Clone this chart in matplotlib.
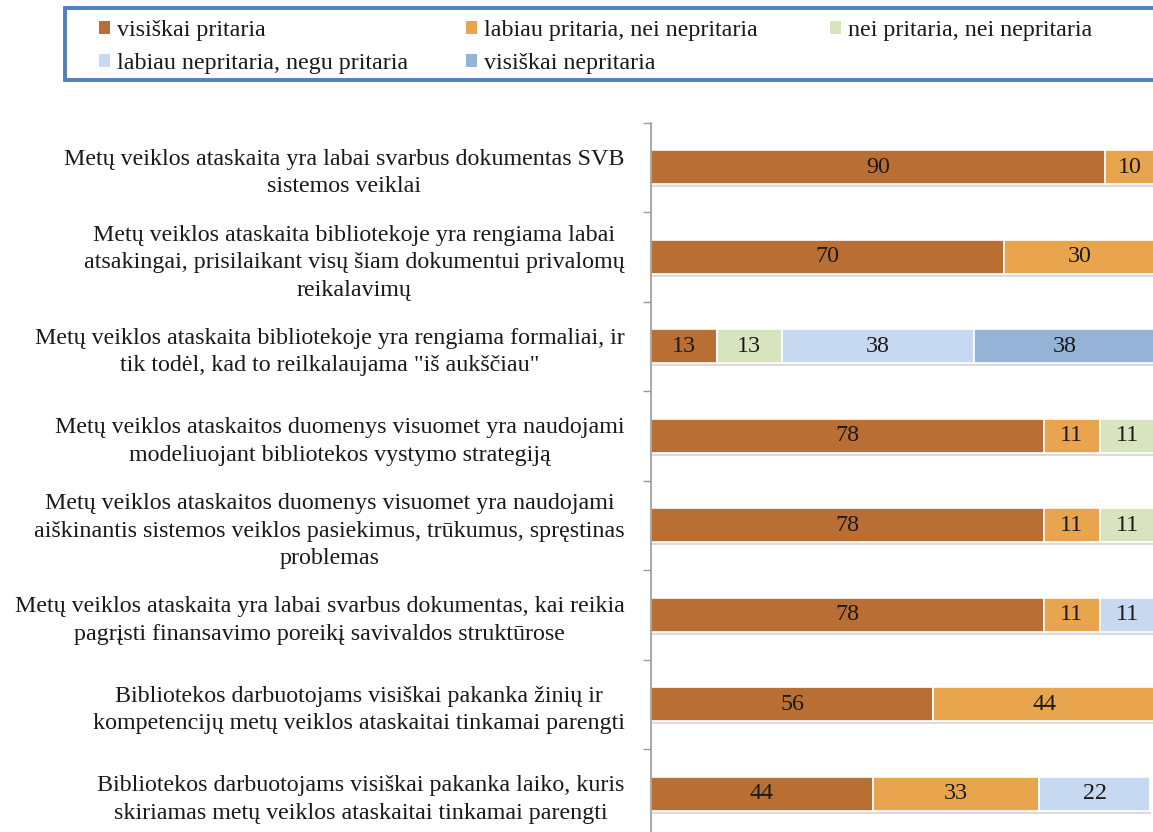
import matplotlib
matplotlib.use("Agg")
import matplotlib.pyplot as plt
import matplotlib.patheffects as pe
from matplotlib.patches import Patch, Rectangle
import numpy as np

plt.rcParams['font.family'] = ['Liberation Serif', 'DejaVu Serif']

categories = [
    "Metų veiklos ataskaita yra labai svarbus dokumentas SVB\nsistemos veiklai",
    "Metų veiklos ataskaita bibliotekoje yra rengiama labai\natsakingai, prisilaikant visų šiam dokumentui privalomų\nreikalavimų",
    "Metų veiklos ataskaita bibliotekoje yra rengiama formaliai, ir\ntik todėl, kad to reilkalaujama \"iš aukščiau\"",
    "Metų veiklos ataskaitos duomenys visuomet yra naudojami\nmodeliuojant bibliotekos vystymo strategiją",
    "Metų veiklos ataskaitos duomenys visuomet yra naudojami\naiškinantis sistemos veiklos pasiekimus, trūkumus, spręstinas\nproblemas",
    "Metų veiklos ataskaita yra labai svarbus dokumentas, kai reikia\npagrįsti finansavimo poreikį savivaldos struktūrose",
    "Bibliotekos darbuotojams visiškai pakanka žinių ir\nkompetencijų metų veiklos ataskaitai tinkamai parengti",
    "Bibliotekos darbuotojams visiškai pakanka laiko, kuris\nskiriamas metų veiklos ataskaitai tinkamai parengti",
]

series_names = [
    "visiškai pritaria",
    "labiau pritaria, nei nepritaria",
    "nei pritaria, nei nepritaria",
    "labiau nepritaria, negu pritaria",
    "visiškai nepritaria",
]

visiskai_pritaria = [90, 70, 13, 78, 78, 78, 56, 44]
labiau_pritaria = [10, 30, 0, 11, 11, 11, 44, 33]
nei_nei = [0, 0, 13, 11, 11, 0, 0, 0]
labiau_nepritaria = [0, 0, 38, 0, 0, 11, 0, 22]
visiskai_nepritaria = [0, 0, 38, 0, 0, 0, 0, 0]

series_values = [visiskai_pritaria, labiau_pritaria, nei_nei,
                 labiau_nepritaria, visiskai_nepritaria]
colors = ["#B96F33", "#E9A54D", "#D7E4BD", "#C6D9F1", "#95B3D7"]

FS = 17.3
W, H = 1153, 832
fig = plt.figure(figsize=(W / 100, H / 100), dpi=100)

ax_left = 651 / W
ax_top = (H - 122.7) / H
ax_bottom = (H - 838.5) / H
ax_right = 1155 / W
ax = fig.add_axes([ax_left, ax_bottom, ax_right - ax_left, ax_top - ax_bottom])

y = np.arange(len(categories))
left = np.zeros(len(categories))
shadow = [pe.SimplePatchShadow(offset=(0.5, -2.0), shadow_rgbFace=(0.45, 0.45, 0.45), alpha=0.25),
          pe.Normal()]
handles = []
for name, vals, col in zip(series_names, series_values, colors):
    vals = np.array(vals, dtype=float)
    bars = ax.barh(y, vals, left=left, height=0.38, color=col,
                   edgecolor='white', linewidth=1.2, label=name)
    for b in bars:
        b.set_path_effects(shadow)
    labels = [f"{int(v)}" if v > 0 else "" for v in vals]
    ax.bar_label(bars, labels=labels, label_type='center', fontsize=FS,
                 color='#1a1a1a')
    left += vals
    handles.append(Patch(facecolor=col, edgecolor='none'))

ax.set_xlim(0, 100)
ax.set_ylim(len(categories) - 0.5, -0.5)
ax.set_xticks([])
ax.set_yticks(y)
ax.set_yticklabels(categories, fontsize=FS, multialignment='center',
                   linespacing=1.4)
ax.tick_params(axis='y', which='major', length=0, pad=19, colors='#1a1a1a')
ax.set_yticks(np.arange(-0.5, len(categories), 1.0), minor=True)
ax.tick_params(axis='y', which='minor', length=6, width=1, color='#9a9a9a')
for s in ['top', 'right', 'bottom']:
    ax.spines[s].set_visible(False)
ax.spines['left'].set_color('#9a9a9a')
ax.spines['left'].set_linewidth(1.2)

# legend frame
fig.patches.append(Rectangle((65 / W, (H - 80) / H), (1175 - 65) / W, 72 / H,
                             transform=fig.transFigure, facecolor='white',
                             edgecolor='#4F81BD', linewidth=2.8, zorder=0))

# legend columns (row-wise order as in the reference)
col_groups = [[0, 3], [1, 4], [2]]
col_x = [99, 466, 830]
for grp, cx in zip(col_groups, col_x):
    leg = fig.legend([handles[i] for i in grp], [series_names[i] for i in grp],
                     loc='upper left', bbox_to_anchor=(cx / W, (H - 20) / H),
                     fontsize=FS, frameon=False, borderpad=0, borderaxespad=0,
                     handlelength=0.45, handleheight=0.45, handletextpad=0.3,
                     labelspacing=0.5)
    for t in leg.get_texts():
        t.set_color('#1a1a1a')

fig.savefig("out.png", dpi=100)
